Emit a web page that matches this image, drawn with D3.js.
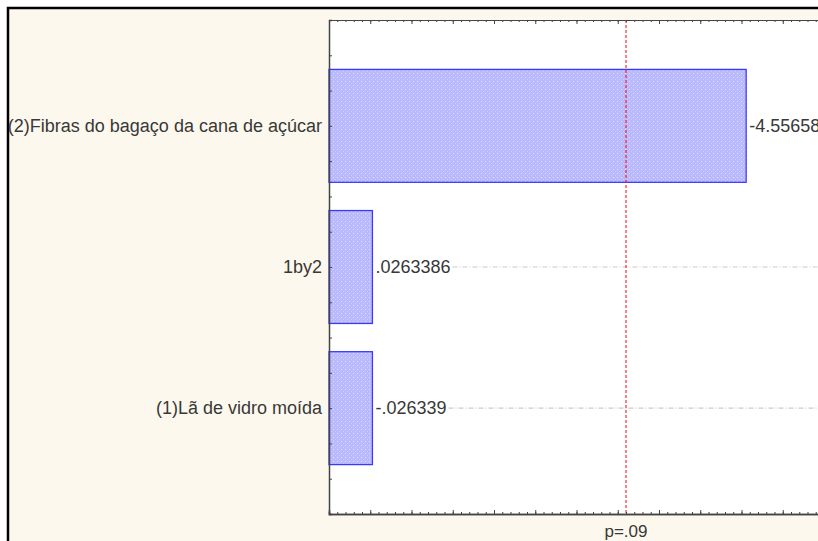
<!DOCTYPE html>
<html>
<head>
<meta charset="utf-8">
<script src="https://cdn.jsdelivr.net/npm/d3@7/dist/d3.min.js"></script>
<style>
  html, body { margin: 0; padding: 0; background: #ffffff; }
  svg { display: block; font-family: "Liberation Sans", Arial, sans-serif; }
</style>
</head>
<body>
<svg id="chart" width="818" height="541"></svg>
<script>
// Pareto chart of standardized effects
const categories = ["(2)Fibras do bagaço da cana de açúcar", "1by2", "(1)Lã de vidro moída"];
const effects = [-4.55658, 0.0263386, -0.026339];
const effectLabels = ["-4.55658", ".0263386", "-.026339"];
const criticalValue = 3.1;
const criticalLabel = "p=.09";

const W = 818, H = 541;
const plot = { left: 329, top: 20, right: 824, bottom: 514 };
const fontSize = 18;
const textCol = "#383838";

const svg = d3.select("#chart");

// frame
svg.append("rect")
  .attr("x", 8).attr("y", 8)
  .attr("width", W + 20).attr("height", H + 20)
  .attr("fill", "#fdf8ed")
  .attr("stroke", "#000").attr("stroke-width", 2.5);

const x = d3.scaleLinear().domain([-0.5, 5.5]).range([plot.left, plot.right]);
const y = d3.scaleLinear().domain([0.25, 3.75]).range([plot.top, plot.bottom]);
const barHalf = 0.4;

// dotted fill for bars
const defs = svg.append("defs");
const pat = defs.append("pattern")
  .attr("id", "dots").attr("patternUnits", "userSpaceOnUse")
  .attr("width", 4).attr("height", 4);
pat.append("rect").attr("width", 4).attr("height", 4).attr("fill", "#b9b9fb");
pat.append("rect").attr("x", 1).attr("y", 1).attr("width", 1).attr("height", 1).attr("fill", "#e0e0ff");
pat.append("rect").attr("x", 3).attr("y", 3).attr("width", 1).attr("height", 1).attr("fill", "#cdcdfd");

// plot area
svg.append("rect")
  .attr("x", plot.left).attr("y", plot.top)
  .attr("width", plot.right - plot.left).attr("height", plot.bottom - plot.top)
  .attr("fill", "#ffffff");

const rows = categories.map((c, i) => ({ cat: c, value: Math.abs(effects[i]), label: effectLabels[i], pos: i + 1 }));

// bars
svg.append("g").selectAll("rect").data(rows).join("rect")
  .attr("x", x(-0.5))
  .attr("y", d => y(d.pos - barHalf))
  .attr("width", d => x(d.value) - x(-0.5))
  .attr("height", d => y(d.pos + barHalf) - y(d.pos - barHalf))
  .attr("fill", "url(#dots)")
  .attr("stroke", "#3a3aff").attr("stroke-width", 1.3);

// value labels and their guide lines
const vl = svg.append("g");
rows.forEach(d => {
  const tx = x(d.value) + 3;
  const t = vl.append("text")
    .attr("x", tx).attr("y", y(d.pos) + 6)
    .attr("font-size", fontSize).attr("fill", textCol)
    .text(d.label);
  const end = tx + t.node().getComputedTextLength() + 2;
  vl.insert("line", "text")
    .attr("x1", end).attr("x2", plot.right)
    .attr("y1", y(d.pos)).attr("y2", y(d.pos))
    .attr("stroke", "#cccccc").attr("stroke-width", 1.2)
    .attr("stroke-dasharray", "5,2,1,2");
});

// critical value line
svg.append("line")
  .attr("x1", x(criticalValue)).attr("x2", x(criticalValue))
  .attr("y1", plot.top).attr("y2", plot.bottom)
  .attr("stroke", "#ff0000").attr("stroke-width", 1)
  .attr("stroke-dasharray", "3,2");

// category labels
svg.append("g").selectAll("text").data(rows).join("text")
  .attr("x", plot.left - 7).attr("y", d => y(d.pos) + 6)
  .attr("text-anchor", "end").attr("font-size", fontSize).attr("fill", textCol)
  .text(d => d.cat);

// axes: ticks point inward
const minorX = d3.range(-0.5, 5.51, 0.1).map(v => +v.toFixed(2));
const majorX = d3.range(-0.5, 5.51, 0.5).map(v => +v.toFixed(2));
const axCol = "#444";

const topMinor = d3.axisTop(x).tickValues(minorX).tickSize(-2).tickFormat("");
const topMajor = d3.axisTop(x).tickValues(majorX).tickSize(-4).tickFormat("");
const botMinor = d3.axisBottom(x).tickValues(minorX).tickSize(-2).tickFormat("");
const botMajor = d3.axisBottom(x).tickValues(majorX).tickSize(-4).tickFormat("");
const yTicks = d3.range(0.25, 3.751, 0.25);
const leftAx = d3.axisLeft(y).tickValues(yTicks).tickSize(-3).tickFormat("");

function styleAxis(g, w) {
  g.selectAll("path.domain").attr("stroke", axCol).attr("stroke-width", w);
  g.selectAll(".tick line").attr("stroke", axCol).attr("stroke-width", 1);
}

svg.append("g").attr("transform", `translate(0,${plot.top})`).call(topMinor).call(g => styleAxis(g, 1));
svg.append("g").attr("transform", `translate(0,${plot.top})`).call(topMajor).call(g => styleAxis(g, 1));
svg.append("g").attr("transform", `translate(0,${plot.bottom})`).call(botMinor).call(g => styleAxis(g, 1.5));
svg.append("g").attr("transform", `translate(0,${plot.bottom})`).call(botMajor).call(g => styleAxis(g, 1.5));
svg.append("g").attr("transform", `translate(${plot.left},0)`).call(leftAx).call(g => styleAxis(g, 1.5));

// critical value caption
svg.append("text")
  .attr("x", x(criticalValue)).attr("y", 537)
  .attr("text-anchor", "middle").attr("font-size", fontSize - 1).attr("fill", textCol)
  .text(criticalLabel);
</script>
</body>
</html>
